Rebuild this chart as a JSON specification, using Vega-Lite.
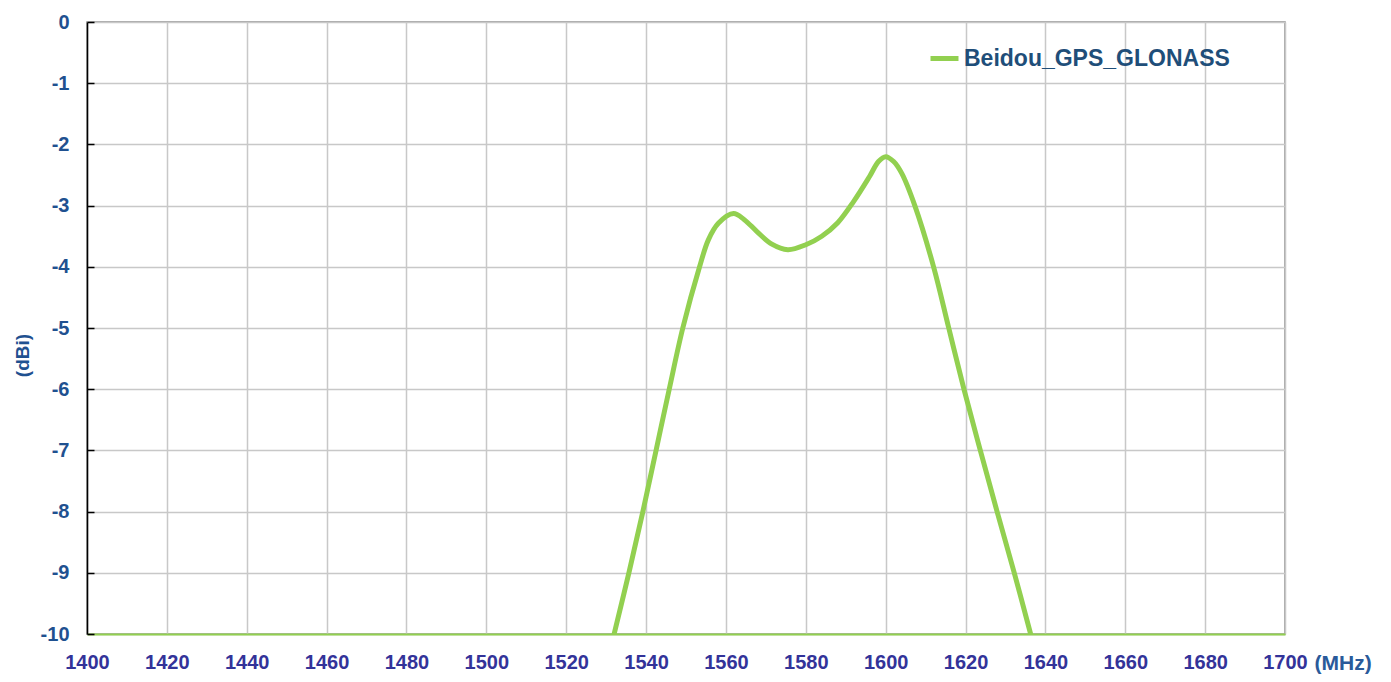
{
  "$schema": "https://vega.github.io/schema/vega-lite/v6.json",
  "width": 1198,
  "height": 612,
  "autosize": {"type": "none"},
  "padding": {"left": 87, "top": 22, "right": 106, "bottom": 48},
  "background": "white",
  "config": {
    "view": {"stroke": "#8c8c8c", "strokeWidth": 1.5},
    "font": "Liberation Sans"
  },
  "data": {
    "values": [
      {"f": 1530.2, "g": -10.5, "s": "Beidou_GPS_GLONASS"},
      {"f": 1532, "g": -10, "s": "Beidou_GPS_GLONASS"},
      {"f": 1535.7, "g": -9, "s": "Beidou_GPS_GLONASS"},
      {"f": 1539.2, "g": -8, "s": "Beidou_GPS_GLONASS"},
      {"f": 1542.5, "g": -7, "s": "Beidou_GPS_GLONASS"},
      {"f": 1545.8, "g": -6, "s": "Beidou_GPS_GLONASS"},
      {"f": 1549.2, "g": -5, "s": "Beidou_GPS_GLONASS"},
      {"f": 1553.4, "g": -4, "s": "Beidou_GPS_GLONASS"},
      {"f": 1555.6, "g": -3.56, "s": "Beidou_GPS_GLONASS"},
      {"f": 1558.1, "g": -3.29, "s": "Beidou_GPS_GLONASS"},
      {"f": 1561.9, "g": -3.13, "s": "Beidou_GPS_GLONASS"},
      {"f": 1564.6, "g": -3.23, "s": "Beidou_GPS_GLONASS"},
      {"f": 1567.7, "g": -3.42, "s": "Beidou_GPS_GLONASS"},
      {"f": 1571.5, "g": -3.63, "s": "Beidou_GPS_GLONASS"},
      {"f": 1575.5, "g": -3.72, "s": "Beidou_GPS_GLONASS"},
      {"f": 1580, "g": -3.64, "s": "Beidou_GPS_GLONASS"},
      {"f": 1584, "g": -3.5, "s": "Beidou_GPS_GLONASS"},
      {"f": 1588, "g": -3.28, "s": "Beidou_GPS_GLONASS"},
      {"f": 1592, "g": -2.93, "s": "Beidou_GPS_GLONASS"},
      {"f": 1596, "g": -2.52, "s": "Beidou_GPS_GLONASS"},
      {"f": 1598.2, "g": -2.28, "s": "Beidou_GPS_GLONASS"},
      {"f": 1600, "g": -2.2, "s": "Beidou_GPS_GLONASS"},
      {"f": 1602, "g": -2.28, "s": "Beidou_GPS_GLONASS"},
      {"f": 1604, "g": -2.47, "s": "Beidou_GPS_GLONASS"},
      {"f": 1607.3, "g": -3, "s": "Beidou_GPS_GLONASS"},
      {"f": 1612, "g": -4, "s": "Beidou_GPS_GLONASS"},
      {"f": 1615.8, "g": -5, "s": "Beidou_GPS_GLONASS"},
      {"f": 1619.6, "g": -6, "s": "Beidou_GPS_GLONASS"},
      {"f": 1623.7, "g": -7, "s": "Beidou_GPS_GLONASS"},
      {"f": 1627.9, "g": -8, "s": "Beidou_GPS_GLONASS"},
      {"f": 1632.2, "g": -9, "s": "Beidou_GPS_GLONASS"},
      {"f": 1636.3, "g": -10, "s": "Beidou_GPS_GLONASS"},
      {"f": 1638.3, "g": -10.5, "s": "Beidou_GPS_GLONASS"}
    ]
  },
  "mark": {"type": "line", "interpolate": "catmull-rom", "strokeWidth": 5, "clip": true},
  "encoding": {
    "x": {
      "field": "f",
      "type": "quantitative",
      "scale": {"domain": [1400, 1700], "nice": false, "zero": false},
      "axis": {
        "values": [1400, 1420, 1440, 1460, 1480, 1500, 1520, 1540, 1560, 1580, 1600, 1620, 1640, 1660, 1680, 1700],
        "labelExpr": "datum.value + ''",
        "title": "(MHz)",
        "titleX": 1227,
        "titleY": 29,
        "titleAlign": "left",
        "titleBaseline": "middle",
        "titleAngle": 0,
        "titleFontSize": 21,
        "titleFontWeight": "bold",
        "titleColor": "#2a5a9a",
        "labelFontSize": 20,
        "labelFontWeight": "bold",
        "labelColor": "#333399",
        "labelPadding": 18,
        "labelFlush": false,
        "labelOverlap": false,
        "ticks": false,
        "domainColor": "#92d050",
        "domainWidth": 2,
        "grid": true,
        "gridColor": "#c8c8c8",
        "gridWidth": 1.5
      }
    },
    "y": {
      "field": "g",
      "type": "quantitative",
      "scale": {"domain": [-10, 0], "nice": false, "zero": false},
      "axis": {
        "values": [0, -1, -2, -3, -4, -5, -6, -7, -8, -9, -10],
        "labelExpr": "datum.value + ''",
        "title": "(dBi)",
        "titleX": -65,
        "titleY": 333,
        "titleAngle": -90,
        "titleAlign": "center",
        "titleBaseline": "middle",
        "titleFontSize": 19,
        "titleFontWeight": "bold",
        "titleColor": "#1f5190",
        "labelFontSize": 20,
        "labelFontWeight": "bold",
        "labelColor": "#1f5190",
        "labelPadding": 25,
        "labelFlush": false,
        "tickSize": -7,
        "tickColor": "black",
        "tickWidth": 1.5,
        "domainColor": "black",
        "domainWidth": 1.5,
        "grid": true,
        "gridColor": "#c8c8c8",
        "gridWidth": 1.5
      }
    },
    "color": {
      "field": "s",
      "type": "nominal",
      "scale": {"domain": ["Beidou_GPS_GLONASS"], "range": ["#92d050"]},
      "legend": {
        "title": null,
        "orient": "none",
        "legendX": 841,
        "legendY": 20,
        "padding": 0,
        "symbolType": "stroke",
        "symbolSize": 784,
        "symbolStrokeWidth": 5,
        "labelFontSize": 23,
        "labelFontWeight": "bold",
        "labelColor": "#1f4e79",
        "labelLimit": 0,
        "labelOffset": 3
      }
    }
  }
}
